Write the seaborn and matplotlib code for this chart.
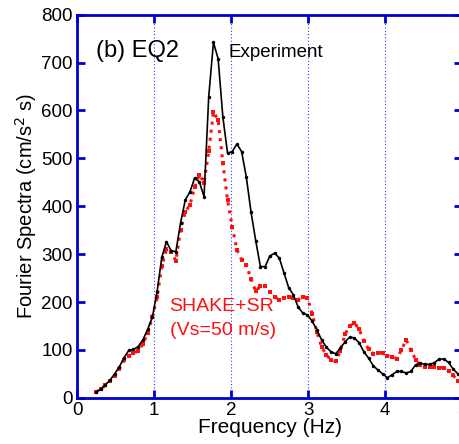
import pandas as pd
import seaborn as sns
import matplotlib.pyplot as plt

plt.rcParams['font.family'] = ['Liberation Sans', 'DejaVu Sans']

# Frecuencias (Hz)
freq = [0.244, 0.305, 0.366, 0.427, 0.488, 0.549, 0.610, 0.671, 0.732, 0.793,
        0.854, 0.916, 0.977, 1.038, 1.099, 1.160, 1.221, 1.282, 1.343, 1.404,
        1.465, 1.526, 1.587, 1.648, 1.709, 1.770, 1.831, 1.892, 1.953, 2.014,
        2.075, 2.136, 2.197, 2.258, 2.319, 2.380, 2.441, 2.502, 2.563, 2.625,
        2.686, 2.747, 2.808, 2.869, 2.930, 2.991, 3.052, 3.113, 3.174, 3.235,
        3.296, 3.357, 3.418, 3.479, 3.540, 3.601, 3.662, 3.723, 3.784, 3.845,
        3.906, 3.967, 4.028, 4.089, 4.150, 4.211, 4.272, 4.333, 4.395, 4.456,
        4.517, 4.578, 4.639, 4.700, 4.761, 4.822, 4.883, 4.944, 5.005]

# Experiment (black)
experiment = [12, 18, 27, 37, 50, 65, 84, 99, 101, 107,
              121, 143, 168, 221, 293, 326, 307, 305, 365, 413,
              430, 459, 451, 420, 629, 742, 708, 587, 511, 514,
              530, 514, 461, 388, 328, 274, 274, 296, 302, 292,
              261, 230, 215, 190, 177, 173, 160, 142, 121, 106,
              96, 92, 104, 117, 127, 125, 115, 96, 83, 67,
              58, 50, 42, 48, 55, 55, 52, 55, 69, 72,
              70, 70, 73, 81, 81, 74, 60, 50, 45]

# SHAKE+SR (red)
shake_sr = [12, 18, 26, 35, 46, 60, 78, 88, 93, 98,
            112, 136, 168, 210, 275, 310, 305, 286, 350, 388,
            403, 440, 466, 449, 515, 597, 580, 491, 413, 357,
            309, 288, 278, 248, 222, 234, 234, 221, 211, 205,
            209, 211, 209, 205, 211, 209, 175, 138, 106, 90,
            79, 76, 98, 133, 150, 157, 143, 118, 102, 92,
            94, 94, 88, 86, 82, 100, 121, 100, 80, 68,
            64, 65, 64, 63, 63, 56, 47, 35, 30]

df = pd.DataFrame({'freq': freq, 'exp': experiment, 'sim': shake_sr})

fig = plt.figure(figsize=(4.59, 4.44), dpi=100)
ax = fig.add_axes([0.168, 0.104, 0.839, 0.863])

blue = '#0000CC'
for x in [1, 2, 3, 4]:
    ax.axvline(x, color='#3333FF', linestyle=(0, (1, 2)), linewidth=0.8, zorder=0)

sns.lineplot(data=df, x='freq', y='sim', ax=ax, color='#FF1010', linestyle=':',
             linewidth=2.2, marker='s', markersize=3, markeredgewidth=0,
             estimator=None, sort=False)
sns.lineplot(data=df, x='freq', y='exp', ax=ax, color='black', linewidth=1.2,
             marker='o', markersize=2.5, markeredgewidth=0,
             estimator=None, sort=False)

ax.set_xlim(0, 5)
ax.set_ylim(0, 800)
ax.set_xticks(range(0, 6))
ax.set_yticks(range(0, 900, 100))

for s in ax.spines.values():
    s.set_color(blue)
    s.set_linewidth(2)
ax.tick_params(direction='in', color=blue, width=2, length=6, labelsize=13.5,
               labelcolor='black', top=True, right=True, pad=3)

ax.set_xlabel('Frequency (Hz)', fontsize=15, labelpad=-1)
ax.set_ylabel('Fourier Spectra (cm/s$^2$ s)', fontsize=14.5, labelpad=2)

ax.text(0.25, 725, '(b) EQ2', fontsize=17, va='center', ha='left')
ax.text(1.96, 722, 'Experiment', fontsize=13.5, va='center', ha='left')
ax.text(1.2, 190, 'SHAKE+SR', fontsize=14, color='#FF1010', va='center', ha='left')
ax.text(1.2, 140, '(Vs=50 m/s)', fontsize=14, color='#FF1010', va='center', ha='left')

fig.savefig('out.png', dpi=100)
